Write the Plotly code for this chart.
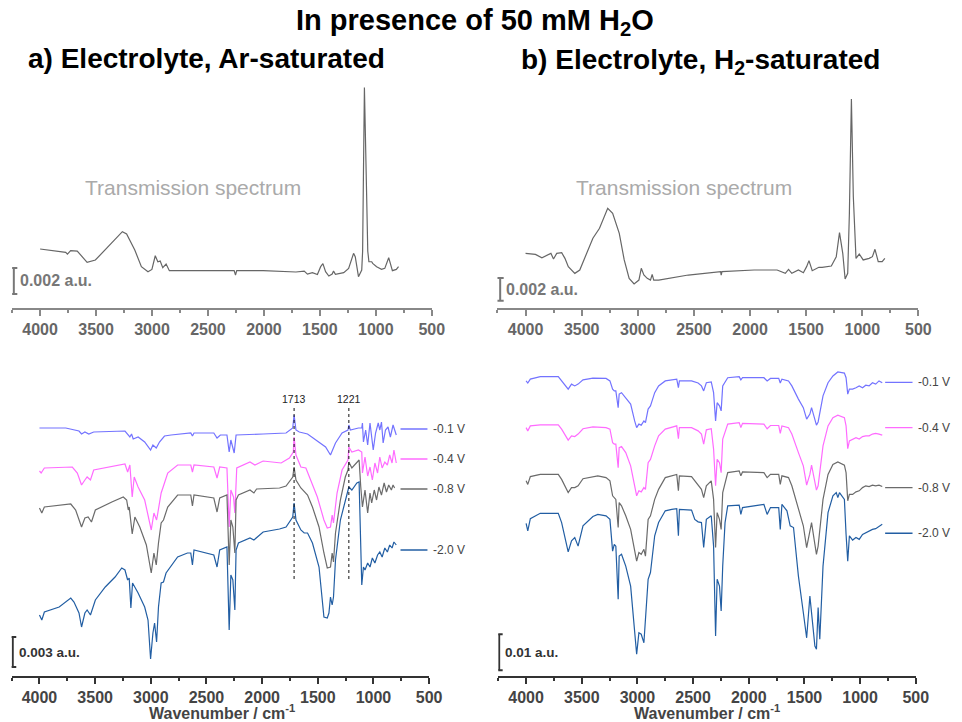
import plotly.graph_objects as go

FONT = "Arial, Liberation Sans, sans-serif"

# ---------------- data (wavenumber cm-1, absorbance in 1e-3 a.u.) ----------------
TL_TRANS = [(4000,1.67),(3859,1.54),(3771,1.41),(3756,1.28),(3727,1.54),(3668,1.51),(3639,1.2),
            (3580,0.64),(3506,0.82),(3418,1.59),(3345,2.23),(3265,3.0),(3227,2.82),(3154,1.59),
            (3095,0.31),(3036,-0.08),(3001,0.1),(2971,1.15),(2948,0.69),(2927,0.74),(2904,0.23),
            (2874,0.51),(2845,0.0),(2301,0.05),(2266,0.0),(2254,-0.33),(2243,0.0),(2007,0.0),
            (1714,-0.1),(1640,-0.03),(1611,-0.26),(1567,-0.15),(1522,-0.3),(1493,0.31),(1473,0.54),
            (1449,-0.08),(1420,-0.41),(1390,-0.26),(1378,-0.03),(1361,-0.28),(1287,-0.15),(1243,0.18),
            (1199,1.33),(1184,1.08),(1155,-0.46),(1126,0.05),(1118,1.5),(1110,8.0),(1102,14.1),
            (1085,6.97),(1072,1.5),(1062,0.7),(1037,0.69),(1028,0.56),(993,0.31),(949,0.1),(920,0.18),
            (885,1.0),(852,0.0),(817,0.1),(797,0.31)]

TR_TRANS = [(4000,1.49),(3912,1.40),(3854,1.10),(3795,1.43),(3774,1.49),(3751,0.99),(3722,1.49),
            (3678,1.55),(3649,1.04),(3619,0.30),(3561,-0.30),(3517,0.0),(3458,1.49),(3400,2.84),
            (3341,3.73),(3268,5.52),(3224,5.07),(3165,3.28),(3121,0.90),(3077,-0.75),(3033,-1.25),
            (2990,-0.90),(2969,0.15),(2946,-0.45),(2916,-0.75),(2887,-0.90),(2872,-0.39),(2858,-0.90),
            (2814,-0.90),(2550,-0.45),(2262,-0.15),(2257,-0.45),(2250,-0.15),(1964,0.0),(1759,0.0),
            (1686,-0.30),(1657,0.06),(1628,-0.30),(1569,0.0),(1525,-0.24),(1496,0.30),(1475,0.84),
            (1446,-0.06),(1387,0.24),(1358,0.24),(1276,0.36),(1232,1.19),(1203,3.34),(1174,1.49),
            (1153,-0.80),(1130,-0.30),(1115,5.07),(1097,15.3),(1080,6.57),(1056,1.04),(1027,1.43),
            (992,0.90),(939,1.04),(910,1.19),(887,1.85),(858,0.75),(823,0.75),(799,1.04)]

# a) Ar-saturated, stacked spectra (offsets included)
BL_M01 = [(4000,24.8),(3764,24.8),(3645,24.5),(3622,24.2),(3592,24.4),(3557,24.2),(3513,24.4),
          (3232,24.5),(3188,23.9),(3173,24.2),(3158,23.7),(3114,23.9),(3055,23.4),(3002,22.6),
          (2981,23.1),(2951,22.8),(2922,23.4),(2877,24.0),(2818,24.1),(2641,24.3),(2626,24.0),
          (2612,24.3),(2434,24.3),(2405,23.8),(2375,24.1),(2316,24.1),(2296,22.4),(2281,23.6),
          (2251,22.3),(2234,24.1),(1991,24.2),(1844,24.3),(1785,24.3),(1725,24.8),(1713,26.1),
          (1696,24.6),(1666,24.4),(1592,24.2),(1519,23.6),(1430,22.9),(1386,22.1),(1365,22.6),
          (1341,23.3),(1282,24.3),(1229,24.6),(1221,25.1),(1208,24.6),(1135,24.8),(1105,24.8),
          (1099,25.3),(1090,23.4),(1070,24.6),(1052,23.1),(1031,25.3),(1002,22.6),(981,24.3),
          (957,25.3),(943,24.6),(928,25.4),(913,23.3),(892,24.6),(869,24.9),(848,23.9),(824,25.1),
          (795,24.1)]
BL_M04 = [(4000,20.5),(3985,20.3),(3956,20.8),(3705,20.9),(3660,20.3),(3622,19.1),(3592,19.6),
          (3572,19.9),(3542,19.6),(3513,20.6),(3232,21.2),(3208,20.4),(3188,21.1),(3167,17.9),
          (3149,19.9),(3114,18.9),(3055,17.6),(3010,15.3),(2996,14.6),(2972,16.3),(2948,15.6),
          (2937,16.3),(2907,18.3),(2886,19.0),(2848,20.3),(2759,21.1),(2641,21.1),(2626,20.4),
          (2612,21.1),(2434,20.9),(2405,19.8),(2381,20.9),(2316,20.8),(2296,14.9),(2281,18.6),
          (2257,17.9),(2245,16.3),(2228,20.8),(2109,21.4),(2065,21.1),(1991,21.5),(1829,21.3),
          (1755,21.8),(1720,22.4),(1713,23.9),(1696,22.1),(1652,20.9),(1607,20.8),(1563,19.6),
          (1504,17.9),(1445,15.6),(1415,14.8),(1386,14.9),(1371,16.1),(1359,15.3),(1327,18.3),
          (1282,20.6),(1229,21.6),(1221,22.9),(1194,22.4),(1135,22.6),(1105,22.4),(1099,20.3),
          (1076,21.9),(1052,20.0),(1031,20.9),(1010,19.6),(987,21.3),(963,20.3),(943,21.9),
          (922,20.8),(898,21.4),(875,21.1),(854,22.1),(833,21.3),(816,22.6),(795,21.3)]
BL_M08 = [(4000,16.8),(3979,16.3),(3956,16.9),(3719,17.2),(3675,16.6),(3622,14.9),(3592,15.8),
          (3563,15.9),(3533,15.4),(3498,16.6),(3350,17.4),(3247,17.9),(3217,17.6),(3202,16.6),
          (3194,16.9),(3167,14.2),(3143,15.9),(3099,14.9),(3040,13.1),(3010,10.9),(2996,10.3),
          (2972,12.3),(2951,11.1),(2931,13.3),(2907,15.3),(2886,15.6),(2848,16.9),(2759,18.1),
          (2641,18.1),(2626,17.0),(2612,18.1),(2434,17.8),(2405,16.4),(2381,17.8),(2316,18.1),
          (2296,11.1),(2281,15.6),(2263,14.9),(2245,12.3),(2234,17.6),(2213,18.1),(2109,18.6),
          (2074,18.3),(2050,18.7),(1844,18.8),(1785,19.0),(1725,19.9),(1713,20.9),(1696,19.6),
          (1652,18.8),(1622,18.4),(1592,18.1),(1548,16.9),(1489,14.9),(1445,12.3),(1415,10.8),
          (1386,10.9),(1371,12.3),(1359,11.4),(1341,14.3),(1297,17.6),(1253,19.9),(1229,20.6),
          (1221,21.4),(1194,20.8),(1149,21.3),(1129,21.6),(1114,18.9),(1099,16.9),(1076,18.6),
          (1052,16.3),(1031,18.3),(1016,17.3),(993,18.6),(972,17.6),(951,18.9),(928,18.1),
          (904,19.3),(883,18.4),(863,19.1),(839,18.6),(824,19.1),(810,18.8)]
BL_M20 = [(4000,6.1),(3979,5.6),(3956,6.4),(3823,6.9),(3719,7.8),(3690,7.4),(3645,6.3),(3622,4.9),
          (3592,6.3),(3572,6.6),(3542,6.1),(3498,7.6),(3409,8.9),(3321,9.9),(3261,10.8),(3232,10.6),
          (3208,9.6),(3194,9.8),(3179,6.8),(3164,9.3),(3114,8.3),(3055,6.9),(3025,5.6),(3010,2.9),
          (3002,1.7),(2981,4.3),(2966,5.3),(2948,3.4),(2931,6.9),(2907,9.3),(2886,9.4),(2863,10.3),
          (2759,11.9),(2671,12.3),(2641,12.3),(2626,11.1),(2612,12.6),(2434,12.1),(2405,10.9),
          (2381,12.6),(2316,12.9),(2296,4.6),(2281,10.1),(2263,9.6),(2245,6.6),(2234,12.6),
          (2213,13.3),(2109,13.8),(2074,13.6),(1991,14.4),(1844,14.7),(1785,14.9),(1725,15.9),
          (1713,17.3),(1696,15.6),(1652,14.6),(1622,14.3),(1592,14.3),(1548,13.3),(1489,10.9),
          (1445,5.9),(1415,5.8),(1400,6.3),(1386,7.9),(1371,7.1),(1359,7.9),(1341,11.6),(1297,15.6),
          (1253,17.6),(1229,18.4),(1221,18.9),(1194,18.6),(1149,19.3),(1129,19.4),(1114,13.9),
          (1105,9.1),(1090,10.9),(1076,10.6),(1052,11.3),(1031,10.9),(1010,11.8),(987,11.3),
          (963,12.1),(943,12.4),(922,11.9),(898,12.8),(875,12.4),(854,13.1),(833,12.8),(816,13.4),
          (795,13.1)]

# b) H2-saturated, stacked spectra (offsets included)
BR_M01 = [(4000,82.7),(3985,82.1),(3962,83.2),(3873,83.9),(3711,83.9),(3681,82.7),(3622,80.4),
          (3592,81.8),(3563,81.3),(3533,81.8),(3489,83.0),(3400,83.5),(3282,83.4),(3247,82.7),
          (3223,80.4),(3208,79.9),(3194,79.9),(3173,75.2),(3164,79.0),(3143,79.4),(3105,78.0),
          (3061,76.2),(3025,71.5),(3007,69.6),(2987,70.6),(2966,70.3),(2942,71.5),(2928,71.0),
          (2904,74.8),(2883,75.7),(2845,79.4),(2810,81.3),(2750,82.7),(2647,83.2),(2632,80.8),
          (2623,82.7),(2514,82.7),(2455,82.1),(2425,81.3),(2405,79.9),(2381,82.2),(2337,82.4),
          (2316,79.4),(2298,71.5),(2284,76.6),(2263,75.7),(2248,74.3),(2234,81.3),(2189,83.6),
          (2086,83.9),(2071,83.0),(2056,83.6),(1864,83.6),(1835,82.7),(1805,83.4),(1731,83.4),
          (1717,82.1),(1702,83.2),(1643,82.7),(1613,81.3),(1554,77.6),(1510,75.2),(1480,72.0),
          (1451,73.4),(1436,75.2),(1406,72.0),(1392,70.3),(1377,71.2),(1362,73.8),(1333,78.5),
          (1288,82.2),(1244,84.1),(1200,85.2),(1141,84.9),(1126,83.6),(1111,79.0),(1096,80.4),
          (1067,80.4),(1037,80.8),(1008,81.3),(978,80.8),(949,81.5),(919,81.3),(889,82.2),
          (860,81.8),(830,82.7),(801,82.2)]
BR_M04 = [(4000,69.6),(3985,68.7),(3962,70.1),(3873,70.4),(3711,70.4),(3681,69.2),(3622,66.1),
          (3592,67.3),(3563,67.1),(3533,67.8),(3489,69.3),(3400,69.8),(3282,69.6),(3247,69.2),
          (3223,65.4),(3208,65.0),(3194,65.0),(3173,58.4),(3164,64.0),(3143,64.3),(3105,62.6),
          (3061,58.9),(3025,53.3),(3007,50.5),(2987,51.9),(2966,51.6),(2942,52.8),(2928,52.3),
          (2904,59.8),(2883,60.7),(2845,64.5),(2810,67.3),(2750,69.2),(2647,70.1),(2632,66.5),
          (2623,69.6),(2514,69.6),(2455,68.7),(2425,67.8),(2405,65.0),(2381,69.0),(2337,69.3),
          (2316,63.6),(2298,53.3),(2284,60.7),(2263,59.8),(2248,57.0),(2234,66.4),(2189,70.6),
          (2086,71.0),(2071,69.6),(2056,70.8),(1864,70.6),(1835,69.3),(1805,70.2),(1731,70.2),
          (1717,68.0),(1702,70.1),(1643,69.6),(1613,67.8),(1554,62.6),(1510,58.9),(1480,53.5),
          (1451,56.5),(1436,59.1),(1406,54.2),(1392,52.1),(1377,53.3),(1362,57.5),(1333,64.5),
          (1288,70.1),(1244,72.4),(1200,73.1),(1141,72.4),(1126,70.1),(1111,63.7),(1096,65.9),
          (1067,66.4),(1037,66.8),(1008,66.4),(978,67.1),(949,67.3),(919,67.3),(889,67.8),
          (860,68.0),(830,67.8),(801,67.5)]
BR_M08 = [(4000,54.7),(3985,53.7),(3962,55.9),(3873,56.5),(3711,56.5),(3681,55.1),(3622,51.4),
          (3592,52.8),(3563,52.8),(3533,53.3),(3489,55.3),(3400,55.9),(3356,56.1),(3282,55.6),
          (3247,54.7),(3223,50.5),(3208,50.0),(3194,49.5),(3173,41.6),(3164,48.6),(3143,47.7),
          (3105,44.9),(3061,41.1),(3025,35.5),(3007,32.2),(2987,34.6),(2966,34.1),(2942,35.5),
          (2928,33.6),(2904,43.9),(2883,44.9),(2845,49.5),(2810,52.3),(2750,55.6),(2647,56.5),
          (2632,51.9),(2623,56.1),(2514,55.9),(2455,53.7),(2425,52.3),(2405,50.0),(2381,53.3),
          (2337,54.7),(2316,49.5),(2298,36.0),(2284,45.8),(2263,43.9),(2248,41.1),(2234,51.4),
          (2189,57.0),(2086,57.5),(2071,56.1),(2056,57.2),(1864,57.0),(1835,55.6),(1805,56.5),
          (1731,56.5),(1717,53.7),(1702,56.1),(1643,55.6),(1613,53.3),(1554,46.7),(1510,42.1),
          (1480,36.0),(1451,40.2),(1436,43.0),(1406,36.9),(1392,34.1),(1377,36.4),(1362,40.7),
          (1333,49.5),(1288,56.5),(1244,59.3),(1200,60.0),(1141,59.1),(1126,57.0),(1111,49.1),
          (1096,50.9),(1067,50.9),(1037,51.6),(1008,51.9),(978,52.8),(949,53.3),(919,53.1),
          (889,53.5),(860,53.3),(830,53.5),(801,53.1)]
BR_M20 = [(4000,42.8),(3985,40.7),(3962,44.1),(3873,45.6),(3711,45.6),(3681,43.0),(3622,34.8),
          (3592,37.9),(3563,38.8),(3533,36.4),(3489,42.1),(3400,44.7),(3356,45.3),(3282,44.9),
          (3247,43.9),(3223,35.0),(3208,36.9),(3194,36.4),(3173,21.5),(3164,33.6),(3143,34.1),
          (3105,30.8),(3061,25.2),(3025,12.1),(3007,6.1),(2987,12.1),(2966,11.7),(2942,9.3),
          (2928,15.9),(2904,27.1),(2883,29.0),(2845,39.3),(2810,43.0),(2750,46.3),(2691,46.7),
          (2647,46.9),(2632,39.3),(2623,46.7),(2514,46.5),(2485,43.9),(2455,43.2),(2425,43.0),
          (2405,36.0),(2381,43.9),(2337,44.9),(2316,36.4),(2298,11.2),(2284,27.1),(2263,25.2),
          (2248,18.2),(2234,30.8),(2213,43.0),(2189,47.7),(2086,47.9),(2071,45.3),(2056,47.2),
          (1864,48.1),(1835,45.3),(1805,47.2),(1731,47.2),(1717,41.1),(1702,48.1),(1657,46.3),
          (1628,42.1),(1598,41.6),(1554,28.0),(1510,17.8),(1480,10.7),(1451,22.4),(1436,17.8),
          (1406,8.4),(1392,7.5),(1377,19.2),(1362,10.3),(1333,30.8),(1288,45.8),(1244,50.5),
          (1214,51.4),(1200,50.0),(1185,51.4),(1141,49.5),(1126,39.7),(1111,32.2),(1096,39.3),
          (1067,38.1),(1037,38.8),(1008,38.3),(978,39.7),(949,40.2),(919,40.7),(889,41.1),
          (860,41.3),(801,42.5)]

POTENTIALS = ["-0.1 V", "-0.4 V", "-0.8 V", "-2.0 V"]
COLORS = ["#7373ff", "#ff6bff", "#6b6b6b", "#225ea3"]
BL_LABEL_Y = [24.7, 21.7, 18.7, 12.6]
BR_LABEL_Y = [82.3, 69.6, 52.8, 40.0]
MARKED_BANDS = [1713, 1221]
TICKS = [4000, 3500, 3000, 2500, 2000, 1500, 1000, 500]
MINOR_TICKS = [4250, 3750, 3250, 2750, 2250, 1750, 1250, 750]

fig = go.Figure()

def add_spec(pts, color, xa, ya, width=1.2):
    fig.add_trace(go.Scatter(x=[p[0] for p in pts], y=[p[1] for p in pts], mode="lines",
                             line=dict(color=color, width=width), xaxis=xa, yaxis=ya,
                             showlegend=False, hoverinfo="skip"))

def add_scalebar(x, y0, y1, color, xa, ya, label, size):
    fig.add_trace(go.Scatter(x=[x, x], y=[y0, y1], mode="lines+markers",
                             line=dict(color=color, width=2),
                             marker=dict(symbol="line-ew", size=5, line=dict(color=color, width=2)),
                             xaxis=xa, yaxis=ya, showlegend=False, hoverinfo="skip"))
    fig.add_annotation(x=x, y=(y0 + y1) / 2, xref=xa, yref=ya, text="<b>%s</b>" % label,
                       showarrow=False, xanchor="left", yanchor="middle", xshift=4,
                       font=dict(family=FONT, size=size, color=color))

def add_text(x, y, text, size, color, xanchor="center", xref="paper", yref="paper", **kw):
    fig.add_annotation(x=x, y=y, xref=xref, yref=yref, text=text, showarrow=False,
                       xanchor=xanchor, yanchor=kw.pop("yanchor", "middle"),
                       font=dict(family=FONT, size=size, color=color), **kw)

# top panels
add_spec(TL_TRANS, "#666666", "x", "y")
add_spec(TR_TRANS, "#666666", "x2", "y2")
add_scalebar(4235, 0.21, -1.79, "#777777", "x", "y", "0.002 a.u.", 16)
add_scalebar(4226, -0.72, -2.75, "#777777", "x2", "y2", "0.002 a.u.", 16)

# bottom panels
for pts, c in zip([BL_M01, BL_M04, BL_M08, BL_M20], COLORS):
    add_spec(pts, c, "x3", "y3")
for pts, c in zip([BR_M01, BR_M04, BR_M08, BR_M20], COLORS):
    add_spec(pts, c, "x4", "y4")
add_scalebar(4240, 0.9, 3.9, "#333333", "x3", "y3", "0.003 a.u.", 13.5)
add_scalebar(4242, 1.6, 11.7, "#333333", "x4", "y4", "0.01 a.u.", 13.5)

# potential labels
for lab, c, yl in zip(POTENTIALS, COLORS, BL_LABEL_Y):
    fig.add_shape(type="line", xref="x3", yref="y3", x0=757, x1=515, y0=yl, y1=yl,
                  line=dict(color=c, width=1.3))
    add_text(500, yl, lab, 12, "#444444", xanchor="left", xref="x3", yref="y3", xshift=2)
for lab, c, yl in zip(POTENTIALS, COLORS, BR_LABEL_Y):
    fig.add_shape(type="line", xref="x4", yref="y4", x0=775, x1=529, y0=yl, y1=yl,
                  line=dict(color=c, width=1.3))
    add_text(500, yl, lab, 12, "#444444", xanchor="left", xref="x4", yref="y4")

# marked bands
for wn in MARKED_BANDS:
    fig.add_shape(type="line", xref="x3", yref="y3", x0=wn, x1=wn, y0=9.7, y1=26.9,
                  line=dict(color="#111111", width=1, dash="dot"))
    add_text(wn, 26.9, str(wn), 10.5, "#222222", xref="x3", yref="y3", yanchor="bottom")

def xax(domain, color, fcol):
    return dict(domain=domain, range=[4250, 500], showgrid=False, zeroline=False,
                showline=True, linecolor=color, linewidth=1.5, ticks="outside", ticklen=6,
                tickwidth=1.5, tickcolor=color, tickmode="array", tickvals=TICKS,
                tickfont=dict(family=FONT, size=16, color=fcol, weight="bold"),
                minor=dict(tickvals=MINOR_TICKS, ticklen=3, tickwidth=1.5, tickcolor=color,
                           ticks="outside"))

def yax(domain, rng, anchor):
    return dict(domain=domain, range=rng, visible=False, anchor=anchor)

fig.update_layout(
    width=962, height=722, margin=dict(l=0, r=0, t=0, b=0),
    paper_bgcolor="white", plot_bgcolor="white",
    xaxis=dict(xax([12.3 / 962, 437.7 / 962], "#888888", "#666666"), anchor="y"),
    yaxis=yax([1 - 308 / 722, 1 - 80 / 722], [-2.87, 14.67], "x"),
    xaxis2=dict(xax([504.3 / 962, 931 / 962], "#888888", "#666666"), anchor="y2"),
    yaxis2=yax([1 - 308 / 722, 1 - 80 / 722], [-3.40, 17.0], "x2"),
    xaxis3=dict(xax([11.8 / 962, 435 / 962], "#333333", "#444444"), anchor="y3"),
    yaxis3=yax([1 - 676 / 722, 1 - 386 / 722], [0, 29], "x3"),
    xaxis4=dict(xax([505.1 / 962, 928.3 / 962], "#333333", "#444444"), anchor="y4"),
    yaxis4=yax([1 - 676 / 722, 1 - 362 / 722], [0, 88], "x4"),
)

# titles and text
add_text(0.5, 1 - 22 / 722, "<b>In presence of 50 mM H<sub>2</sub>O</b>", 29, "black")
add_text(26 / 962, 1 - 58 / 722, "<b>a) Electrolyte, Ar-saturated</b>", 28, "black", xanchor="left")
add_text(526 / 962, 1 - 62 / 722, "<b>b) Electrolyte, H<sub>2</sub>-saturated</b>", 28, "black",
         xanchor="left")
for xc in [196 / 962, 693 / 962]:
    add_text(xc, 1 - 188 / 722, "Transmission spectrum", 21, "#aaaaaa")
for xc in [225 / 962, 717 / 962]:
    add_text(xc, 1 - 712 / 722, "<b>Wavenumber / cm<sup>-1</sup></b>", 16, "#444444")

fig.write_html("out.html")
